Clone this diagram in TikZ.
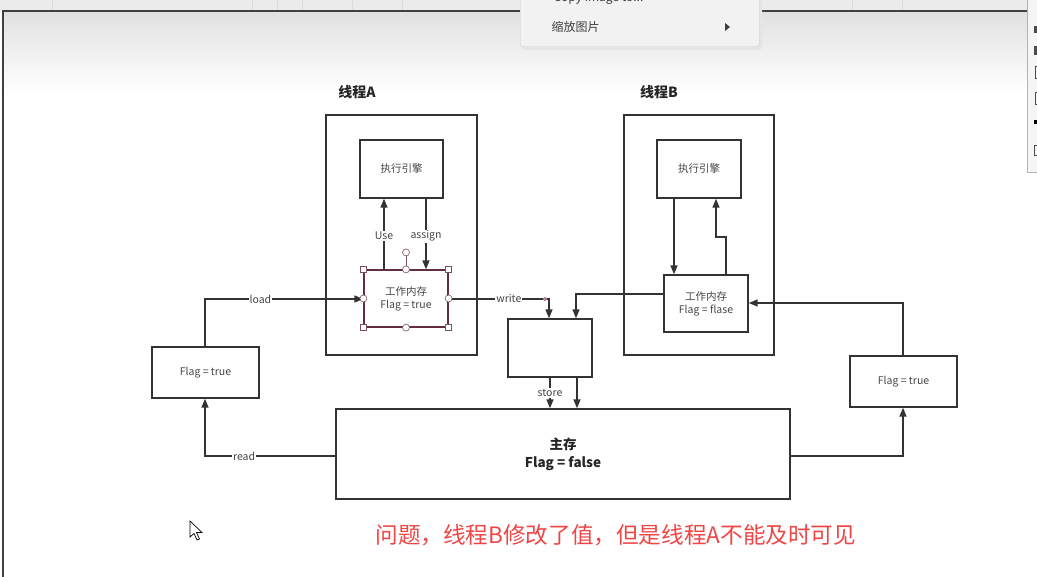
\documentclass[tikz,border=0pt]{standalone}
\usepackage{fontspec}
\setmainfont{Noto Sans CJK SC}
\usetikzlibrary{arrows.meta,shadows}
\definecolor{ln}{HTML}{333333}
\definecolor{txt}{HTML}{444444}
\definecolor{sel}{HTML}{7A3A4E}
\definecolor{redtxt}{HTML}{F04545}
\tikzset{
  box/.style={draw=ln,line width=1.4pt,fill=white,inner sep=0pt,align=center,text=txt,font=\fontsize{10.5}{13}\selectfont},
  conn/.style={draw=ln,line width=1.5pt},
  arr/.style={conn,-{Triangle[width=7pt,length=9pt]}},
  lbl/.style={fill=white,inner sep=1pt,text=txt,font=\fontsize{10.5}{12}\selectfont},
  title/.style={text=black!85,font=\bfseries\fontsize{14}{16}\selectfont},
  hsq/.style={draw=sel!70!gray,fill=white,line width=0.6pt,minimum size=6pt,inner sep=0pt,rectangle},
  hci/.style={draw=sel!70!gray,fill=white,line width=0.6pt,minimum size=7pt,inner sep=0pt,circle},
}
\begin{document}
\begin{tikzpicture}[x=1pt,y=-1pt]
\clip (0,0) rectangle (1037,577);
\fill[white] (0,0) rectangle (1037,577);
% top strip and gradient
\fill[black!8] (0,0) rectangle (1037,11);
\foreach \xx in {52,252,277,302,352,402,592,692,742,852,902}{\draw[black!14,line width=0.5pt] (\xx,0) -- (\xx,10);}
\shade[top color=black!12,bottom color=white] (3,11) rectangle (1027,92);
% outer frame
\draw[black!75,line width=1.5pt] (3,577) -- (3,11) -- (1027,11);
% right panel
\fill[black!4] (1027,0) rectangle (1037,172);
\draw[black!30,line width=0.8pt] (1027,0) -- (1027,172) -- (1037,172);
\fill[black!70] (1034,26) rectangle (1037,33);
\fill[black!70] (1034,46) rectangle (1037,55);
\draw[black!70,line width=0.8pt] (1037,66) -- (1035,66) -- (1035,78) -- (1037,78);
\draw[black!70,line width=0.8pt] (1037,92) -- (1035,92) -- (1035,104) -- (1037,104);
\fill[black] (1034,120) rectangle (1037,124);
\draw[black!70,line width=0.8pt] (1037,145) -- (1034,145) -- (1034,155) -- (1037,155);
% context menu
\fill[black!10,rounded corners=3pt] (522,-5) rectangle (762,50);
\node[draw=black!20,fill=black!5,rounded corners=3pt,minimum width=239pt,minimum height=55pt,anchor=south west] (menu) at (520,47) {};
\node[anchor=west,text=black!75,font=\fontsize{12}{14}\selectfont] (copyitem) at (550,-2) {Copy image to...};
\node[anchor=west,text=black!75,font=\fontsize{12}{14}\selectfont] (zoomitem) at (548,27) {缩放图片};
\fill[black!75] (725,23) -- (730,27) -- (725,31) -- cycle;

% titles
\node[title] (tA) at (357,92) {线程A};
\node[title] (tB) at (659,92) {线程B};

% thread boxes
\node[box,minimum width=151pt,minimum height=240pt] (TA) at (401.5,235) {};
\node[box,minimum width=150pt,minimum height=240pt] (TB) at (699,235) {};

% engines
\node[box,minimum width=83pt,minimum height=58pt] (EA) at (401.5,169) {执行引擎};
\node[box,minimum width=84pt,minimum height=58pt] (EB) at (699,169) {执行引擎};

% working memories
\node[box,draw=sel!80!black,line width=1.2pt,minimum width=84pt,minimum height=57pt] (WA) at (406,298.5) {工作内存\\Flag = true};
\node[box,minimum width=84pt,minimum height=57pt] (WB) at (706,303.5) {工作内存\\Flag = flase};

% flag copies
\node[box,minimum width=107pt,minimum height=51pt] (FL) at (205.5,372.5) {Flag = true};
\node[box,minimum width=107pt,minimum height=51pt] (FR) at (903.5,381.5) {Flag = true};

% middle box and main memory
\node[box,minimum width=84pt,minimum height=58pt] (MID) at (550,348) {};
\node[box,minimum width=454pt,minimum height=90pt,font=\bfseries\fontsize{13.5}{18}\selectfont,text=black!85] (MAIN) at (563,454) {主存\\Flag = false};

% x helpers
\coordinate (xuse) at (384,0);
\coordinate (xasg) at (426,0);
\coordinate (xwr) at (549,0);
\coordinate (xbl) at (576,0);
\coordinate (xst) at (577,0);
\coordinate (xfl) at (205,0);
\coordinate (xfr) at (903,0);
\coordinate (xb1) at (674,0);
\coordinate (xb2) at (726,0);
\coordinate (xb3) at (716,0);
\coordinate (yload) at (0,299);
\coordinate (yread) at (0,456);
\coordinate (yrt) at (0,303);
\coordinate (yjog) at (0,237);
\coordinate (ybl) at (0,294);

% thread A internal
\draw[arr] (WA.north -| xuse) -- node[lbl,pos=0.47] (luse) {Use} (EA.south -| xuse);
\draw[arr] (EA.south -| xasg) -- node[lbl,pos=0.53] (lasg) {assign} (WA.north -| xasg);

% thread B internal
\draw[arr] (EB.south -| xb1) -- (WB.north -| xb1);
\draw[arr] (WB.north -| xb2) -- (yjog -| xb2) -- (yjog -| xb3) -- (EB.south -| xb3);

% load
\draw[arr] (FL.north -| xfl) -- (yload -| xfl) -- node[lbl,pos=0.35] (lload) {load} (WA.west |- yload);
% read
\draw[arr] (MAIN.west |- yread) -- node[lbl,pos=0.7] (lread) {read} (yread -| xfl) -- (FL.south -| xfl);
% write
\draw[arr] (WA.east |- yload) -- node[lbl,pos=0.6] (lwrite) {write} (yload -| xwr) -- (MID.north -| xwr);
\fill[sel!60!white] (545,299) circle (2pt);
% from B working memory to middle
\draw[arr] (WB.west |- ybl) -- (ybl -| xbl) -- (MID.north -| xbl);
% store
\draw[arr] (MID.south) -- node[lbl,pos=0.5] (lstore) {store} (MAIN.north -| MID.south);
\draw[arr] (MID.south -| xst) -- (MAIN.north -| xst);
% right side
\draw[arr] (MAIN.east |- yread) -- (yread -| xfr) -- (FR.south -| xfr);
\draw[arr] (FR.north -| xfr) -- (yrt -| xfr) -- (WB.east |- yrt);

% selection handles on WA
\draw[sel!70!gray,line width=0.6pt] (WA.north) -- ++(0,-17) node[hci] (rot) {};
\foreach \a in {north west,north east,south west,south east}{\node[hsq] at (WA.\a) {};}
\foreach \a in {north,south,east,west}{\node[hci] at (WA.\a) {};}

% red note
\node[text=redtxt,font=\fontsize{22.6}{26}\selectfont,anchor=west] (note) at (372,535) {问题，线程B修改了值，但是线程A不能及时可见};

% mouse cursor
\draw[black,fill=white,line width=0.7pt,line join=miter] (190,521) -- (190,537) -- (194,533.5) -- (197,540) -- (199.5,539) -- (196.5,532.5) -- (202,532.5) -- cycle;
\end{tikzpicture}
\end{document}
